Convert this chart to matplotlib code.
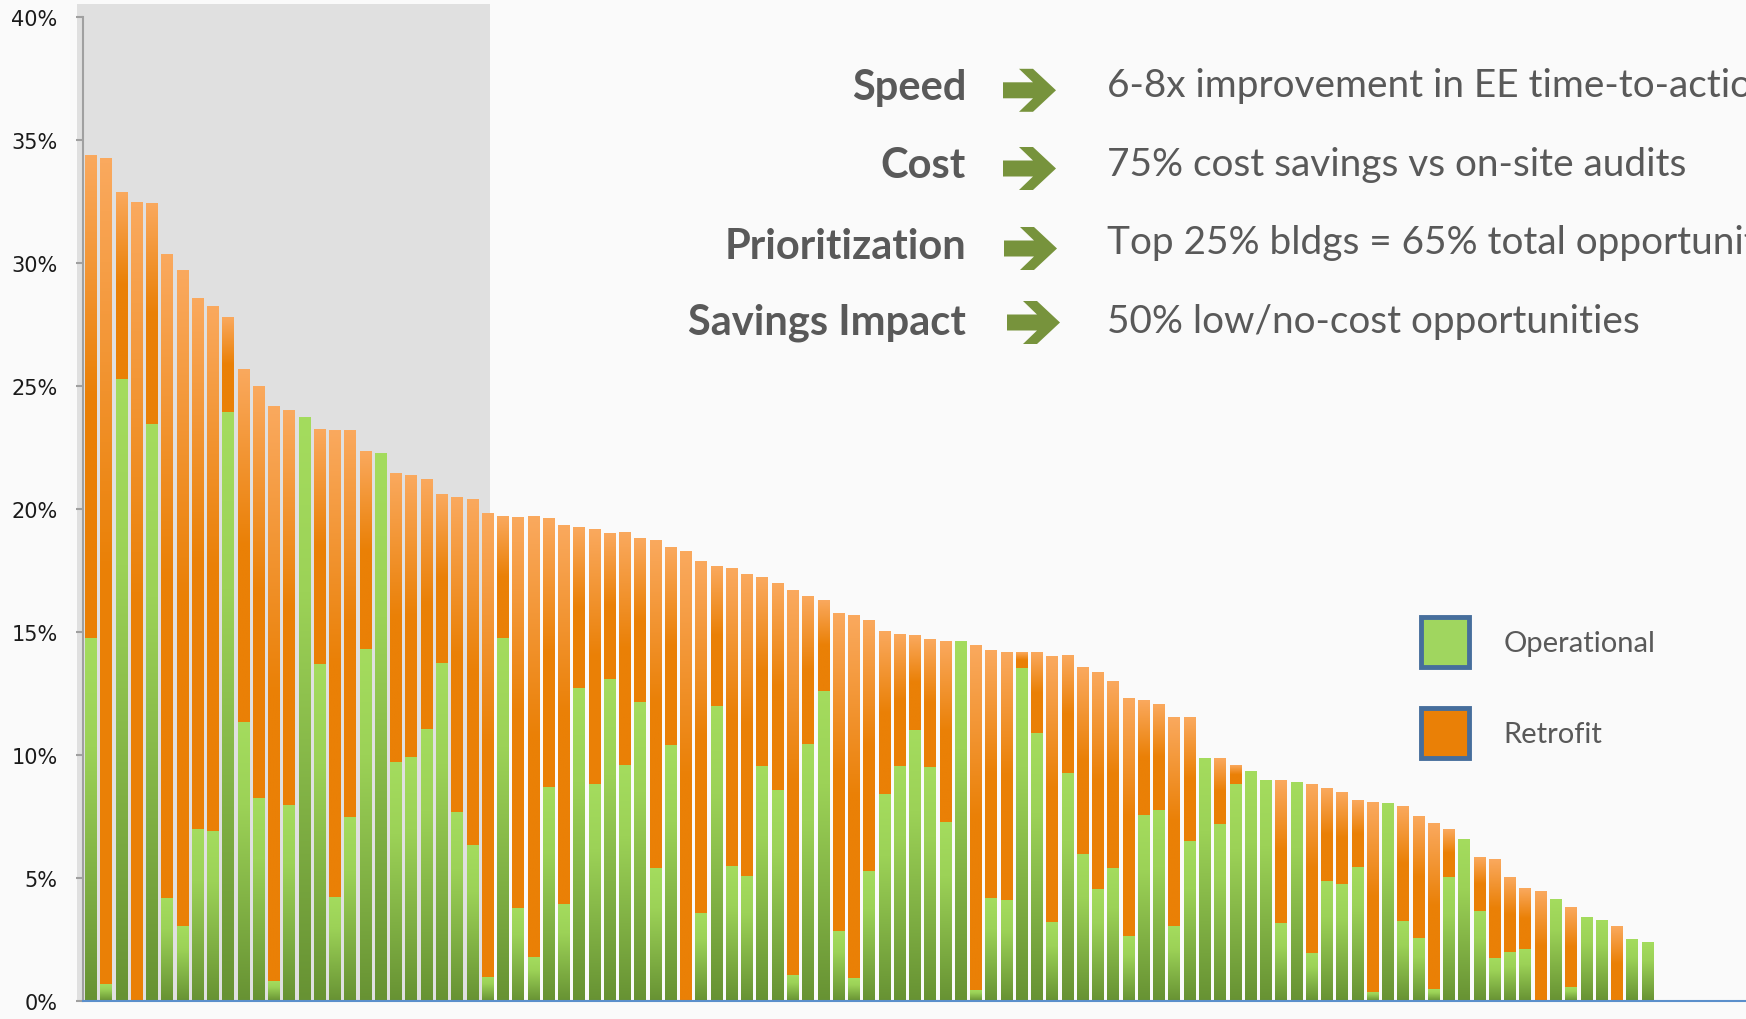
import numpy as np
import matplotlib
matplotlib.use("Agg")
import matplotlib.pyplot as plt
from matplotlib.colors import LinearSegmentedColormap
from matplotlib.patches import Patch, Polygon, Rectangle
from matplotlib.ticker import FuncFormatter

# Savings opportunity per building (% of energy use), sorted by total
operational = [
    14.75, 0.69, 25.28, 0, 23.45, 4.18, 3.04, 6.98, 6.90, 23.93,
    11.34, 8.25, 0.79, 7.96, 23.72, 13.70, 4.23, 7.48, 14.30, 22.24,
    9.70, 9.92, 11.05, 13.72, 7.67, 6.32, 0.98, 14.75, 3.78, 1.77,
    8.70, 3.94, 12.72, 8.80, 13.09, 9.57, 12.14, 5.39, 10.39, 0,
    3.57, 11.98, 5.47, 5.08, 9.55, 8.57, 1.03, 10.44, 12.59, 2.83,
    0.93, 5.29, 8.41, 9.55, 11.00, 9.49, 7.27, 14.60, 0.45, 4.18,
    4.10, 13.54, 10.89, 3.20, 9.25, 5.98, 4.55, 5.39, 2.64, 7.56,
    7.75, 3.04, 6.50, 9.86, 7.19, 8.80, 9.33, 8.96, 3.17, 8.88,
    1.93, 4.87, 4.76, 5.45, 0.37, 8.04, 3.25, 2.56, 0.48, 5.02,
    6.58, 3.65, 1.75, 1.98, 2.12, 0, 4.12, 0.56, 3.41, 3.28,
    0, 2.51, 2.38,
]
retrofit = [
    19.62, 33.55, 7.56, 32.47, 8.97, 26.17, 26.65, 21.58, 21.31, 3.86,
    14.33, 16.71, 23.35, 16.02, 0, 9.54, 18.96, 15.71, 8.04, 0,
    11.72, 11.44, 10.16, 6.85, 12.80, 14.04, 18.85, 4.92, 15.89, 17.90,
    10.92, 15.39, 6.53, 10.34, 5.92, 9.44, 6.63, 13.33, 8.01, 18.27,
    14.28, 5.66, 12.11, 12.24, 7.66, 8.38, 15.63, 6.01, 3.67, 12.90,
    14.72, 10.18, 6.61, 5.36, 3.86, 5.18, 7.35, 0, 14.01, 10.07,
    10.07, 0.63, 3.28, 10.81, 4.76, 7.58, 8.78, 7.57, 9.66, 4.66,
    4.28, 8.49, 5.03, 0, 2.65, 0.75, 0, 0, 5.79, 0,
    6.85, 3.75, 3.73, 2.72, 7.72, 0, 4.66, 4.95, 6.74, 1.93,
    0, 2.19, 4.01, 3.02, 2.45, 4.47, 0, 3.22, 0, 0,
    3.04, 0, 0,
]
y_ticks = [0, 5, 10, 15, 20, 25, 30, 35, 40]
highlight_bars = 26  # top 25% of buildings, shaded
series_names = ["Operational", "Retrofit"]

labels = ["Speed", "Cost", "Prioritization", "Savings Impact"]
claims = [
    "6-8x improvement in EE time-to-action",
    "75% cost savings vs on-site audits",
    "Top 25% bldgs = 65% total opportunity",
    "50% low/no-cost opportunities",
]

W, H = 1746, 1020
GREEN_LIGHT = "#A2DA5E"
ORANGE = "#EA8006"
TEXT_GREY = "#595959"


def px(x, y):
    # pixel position (from top-left) -> figure fraction
    return x / W, 1 - y / H


def paint_gradient(ax, bars, cmap):
    # replace flat bar fill with a vertical gradient image
    grad = np.linspace(0, 1, 256).reshape(-1, 1)
    for b in bars:
        h = b.get_height()
        if h <= 0:
            continue
        x0, y0 = b.get_xy()
        ax.imshow(grad, cmap=cmap, vmin=0, vmax=1, aspect="auto", origin="upper",
                  extent=(x0, x0 + b.get_width(), y0, y0 + h),
                  interpolation="bilinear", zorder=2)
        b.set_visible(False)


green_cmap = LinearSegmentedColormap.from_list(
    "green", [(0, "#A4DC5E"), (0.3, "#9CD257"), (1, "#679233")])
orange_cmap = LinearSegmentedColormap.from_list(
    "orange", [(0, "#FAA95E"), (0.5, ORANGE), (1, ORANGE)])

fig = plt.figure(figsize=(W / 100, H / 100), dpi=100, facecolor="#FAFAFA")
ax = fig.add_axes([82.7 / W, 18.2 / H, (W - 82.7) / W, (1001.8 - 17.6) / H])
ax.set_facecolor("none")

x = np.arange(len(operational))
op = np.array(operational)
rt = np.array(retrofit)
width = 0.77

# shaded block behind the top buildings
ax.add_patch(Rectangle((-0.91, 0), highlight_bars + 1.06, 40.52, facecolor="#E0E0E0",
                       edgecolor="none", zorder=0, clip_on=False))

bars_op = ax.bar(x, op, width, color=GREEN_LIGHT, zorder=2)
bars_rt = ax.bar(x, rt, width, bottom=op, color=ORANGE, zorder=2)
paint_gradient(ax, bars_op, green_cmap)
paint_gradient(ax, bars_rt, orange_cmap)

ax.set_xlim(-0.537, 108.46)
ax.set_ylim(0, 40)
ax.set_xticks([])
ax.set_yticks(y_ticks)
ax.yaxis.set_major_formatter(FuncFormatter(lambda v, _: f"{v:.0f}%"))
ax.tick_params(axis="y", length=5, width=1.5, color="#A0A0A0", pad=13,
               labelsize=15, labelcolor="#1A1A1A")
for s in ["top", "right"]:
    ax.spines[s].set_visible(False)
ax.spines["left"].set_color("#A0A0A0")
ax.spines["left"].set_linewidth(1.5)
ax.spines["left"].set_bounds(0, 40)
ax.spines["left"].set_zorder(3)
ax.spines["bottom"].set_color("#5B8FCB")
ax.spines["bottom"].set_linewidth(1.5)
ax.spines["bottom"].set_zorder(3)

# key messages (the claims run off the right edge, as in the original slide)
label_base = [100, 178, 259, 335]
claim_base = [97, 176, 254, 333]
arrow_mid = [91.3, 169.5, 249.5, 323.5]
arrow_left = [1003, 1003, 1004, 1007]
for i in range(len(labels)):
    fig.text(*px(966, label_base[i]), labels[i], ha="right", va="baseline",
             fontsize=30, fontweight="bold", family="Lato", color=TEXT_GREY)
    fig.text(*px(1107, claim_base[i]), claims[i], ha="left", va="baseline",
             fontsize=27.9, family="Lato", color=TEXT_GREY)
    L, c = arrow_left[i], arrow_mid[i]
    pts = [(L, c - 8), (L + 30, c - 8), (L + 16, c - 21.5), (L + 30, c - 21.5),
           (L + 53, c), (L + 30, c + 21.5), (L + 16, c + 21.5), (L + 30, c + 8),
           (L, c + 8)]
    fig.add_artist(Polygon([px(a, b) for a, b in pts], closed=True,
                           transform=fig.transFigure, facecolor="#77933C",
                           edgecolor="none"))

handles = [Patch(facecolor="#A0D65F", edgecolor="#466E9C", linewidth=3.5),
           Patch(facecolor=ORANGE, edgecolor="#466E9C", linewidth=3.5)]
ax.legend(handles, series_names, loc="upper left", bbox_to_anchor=px(1406, 603),
          bbox_transform=fig.transFigure, frameon=False, borderpad=0,
          handlelength=1.65, handleheight=2.3, handletextpad=1.2,
          labelspacing=1.38, prop={"family": "Lato", "size": 21},
          labelcolor=TEXT_GREY)

fig.savefig("out.png", dpi=100, facecolor=fig.get_facecolor())
